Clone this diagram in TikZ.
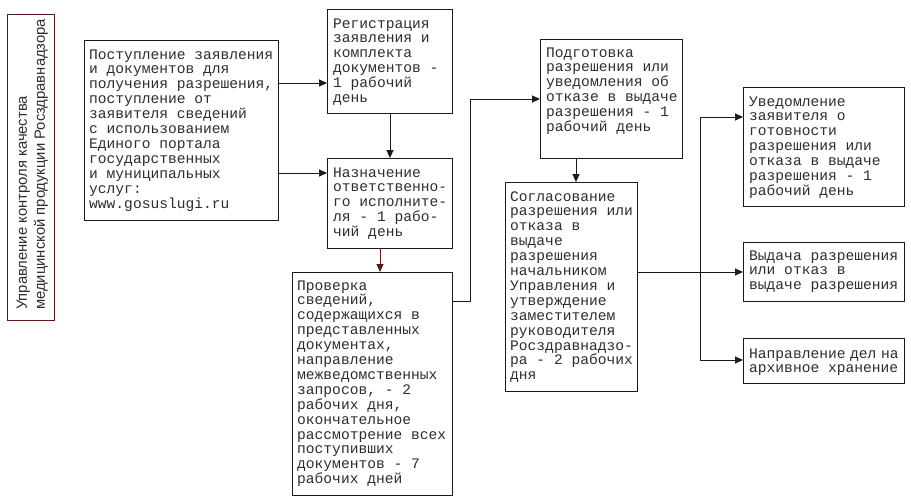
\documentclass[tikz,border=0pt]{standalone}
\usepackage{fontspec}
\setmainfont{Liberation Mono}
\newfontfamily\lsans{Liberation Sans}
\usetikzlibrary{arrows.meta}
\definecolor{lcol}{RGB}{30,25,25}
\definecolor{tcol}{RGB}{45,45,45}
\definecolor{redbrown}{RGB}{90,25,20}
\newcommand\btext[3]{\node[txt] at (#1,#2) {\parbox[t]{300pt}{#3}};}
\begin{document}
\begin{tikzpicture}[x=1pt,y=-1pt,
  box/.style={draw=lcol,line width=0.9pt,rectangle,inner sep=0pt,outer sep=0pt,anchor=north west},
  txt/.style={anchor=base west,inner sep=0pt,text=tcol,font=\fontsize{14.6}{14.9}\selectfont},
  arr/.style={draw=lcol,line width=0.9pt,-{Triangle[length=8pt,width=7pt]}},
  ln/.style={draw=lcol,line width=0.9pt}]
\useasboundingbox (0,0) rectangle (911,499);
\fill[white] (0,0) rectangle (911,499);
% boxes
\node[box,draw=redbrown,minimum width=47pt,minimum height=306pt] (L) at (7,14) {};
\node[box,minimum width=194pt,minimum height=180pt] (A) at (84,40) {};
\node[box,minimum width=125pt,minimum height=104pt] (B) at (327,9) {};
\node[box,minimum width=125pt,minimum height=90pt] (C) at (327,158) {};
\node[box,minimum width=160pt,minimum height=223pt] (D) at (292,272) {};
\node[box,minimum width=142pt,minimum height=119pt] (E) at (540,39) {};
\node[box,minimum width=132pt,minimum height=209pt] (F) at (505,182) {};
\node[box,minimum width=161pt,minimum height=119pt] (G) at (743,87) {};
\node[box,minimum width=161pt,minimum height=59pt] (H) at (743,242) {};
\node[box,minimum width=161pt,minimum height=45pt] (I) at (743,338) {};
% texts
\node[rotate=90,anchor=base west,inner sep=0pt,text=tcol,font=\lsans\fontsize{14.8}{18}\selectfont] (Lt) at (27,310)
  {\parbox[t]{320pt}{Управление контроля качества\\медицинской продукции Росздравнадзора}};
\btext{89}{59}{Поступление заявления\\и документов для\\получения разрешения,\\поступление от\\заявителя сведений\\с использованием\\Единого портала\\государственных\\и муниципальных\\услуг:\\www.gosuslugi.ru}
\btext{333}{28}{Регистрация\\заявления и\\комплекта\\документов -\\1 рабочий\\день}
\btext{333}{177}{Назначение\\ответственно-\\го исполните-\\ля - 1 рабо-\\чий день}
\btext{297}{290}{Проверка\\сведений,\\содержащихся в\\представленных\\документах,\\направление\\межведомственных\\запросов, - 2\\рабочих дня,\\окончательное\\рассмотрение всех\\поступивших\\документов - 7\\рабочих дней}
\btext{546}{57}{Подготовка\\разрешения или\\уведомления об\\отказе в выдаче\\разрешения - 1\\рабочий день}
\btext{510}{201}{Согласование\\разрешения или\\отказа в\\выдаче\\разрешения\\начальником\\Управления и\\утверждение\\заместителем\\руководителя\\Росздравнадзо-\\ра - 2 рабочих\\дня}
\btext{749}{106}{Уведомление\\заявителя о\\готовности\\разрешения или\\отказа в выдаче\\разрешения - 1\\рабочий день}
\btext{749}{260}{Выдача разрешения\\или отказ в\\выдаче разрешения}
\btext{749}{358}{Направление\hspace{4.6pt}дел\hspace{4.6pt}на\\архивное хранение}
% connectors
\draw[arr] (A.east |- 0,83) -- (B.west |- 0,83);
\draw[arr] (A.east |- 0,173) -- (C.west |- 0,173);
\draw[arr] (B.south -| 390,0) -- (C.north -| 390,0);
\draw[arr,draw=redbrown] (C.south -| 380,0) -- (D.north -| 380,0);
\coordinate (d1) at (470,301);
\coordinate (d2) at (470,99);
\draw[arr] (D.east |- d1) -- (d1) -- (d2) -- (E.west |- d2);
\draw[arr] (E.south -| 576,0) -- (F.north -| 576,0);
\coordinate (j) at (700,272);
\coordinate (jt) at (700,117);
\coordinate (jb) at (700,360);
\draw[arr] (F.east |- j) -- (H.west |- j);
\draw[ln] (jt) -- (jb);
\draw[arr] (jt) -- (G.west |- jt);
\draw[arr] (jb) -- (I.west |- jb);
\end{tikzpicture}
\end{document}
